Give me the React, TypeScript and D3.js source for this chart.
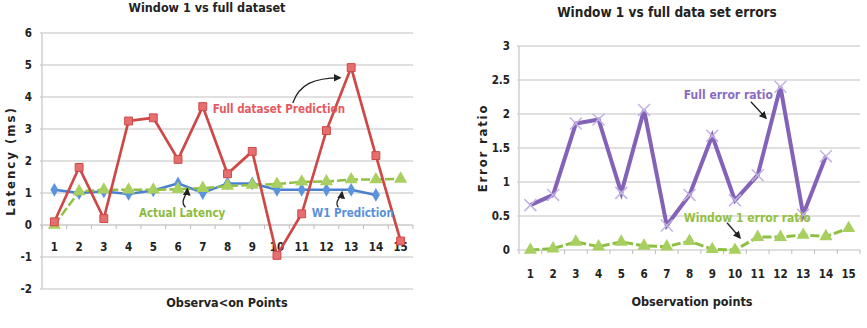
import React from "react";
import * as d3 from "d3";

const categories = [1, 2, 3, 4, 5, 6, 7, 8, 9, 10, 11, 12, 13, 14, 15];

// Left chart
const fullPrediction = [0.1, 1.8, 0.2, 3.25, 3.35, 2.05, 3.7, 1.6, 2.3, -0.95, 0.35, 2.95, 4.92, 2.17, -0.5];
const actualLatency = [0, 1.05, 1.1, 1.1, 1.1, 1.12, 1.15, 1.22, 1.25, 1.28, 1.35, 1.36, 1.42, 1.42, 1.44];
const w1Prediction = [1.1, 1.0, 1.05, 0.97, 1.08, 1.3, 1.0, 1.3, 1.3, 1.1, 1.1, 1.1, 1.1, 0.94];
const leftTicks = [-2, -1, 0, 1, 2, 3, 4, 5, 6];

// Right chart
const fullErrorRatio = [0.66, 0.81, 1.86, 1.92, 0.84, 2.06, 0.36, 0.81, 1.68, 0.73, 1.1, 2.4, 0.52, 1.38];
const w1ErrorRatio = [0.0, 0.02, 0.12, 0.05, 0.12, 0.06, 0.05, 0.13, 0.01, 0.0, 0.19, 0.19, 0.22, 0.2, 0.32];
const rightTicks = [0, 0.5, 1, 1.5, 2, 2.5, 3];

const FONT = "'Liberation Sans Narrow', 'DejaVu Sans Condensed', 'Liberation Sans', Arial, sans-serif";

function sym(type: any, size: number) {
  return d3.symbol().type(type).size(size)() as string;
}

function Arrow({ d, id }: { d: string; id: string }) {
  return <path d={d} fill="none" stroke="#222" strokeWidth={1.3} markerEnd={`url(#${id})`} />;
}

export default function App() {
  // ---------- Left ----------
  const lx = d3.scaleBand<number>().domain(categories).range([42, 413]);
  const lxc = (c: number) => (lx(c) as number) + lx.bandwidth() / 2;
  const lxf = d3.scaleLinear().domain([1, 15]).range([lxc(1), lxc(15)]);
  const ly = d3.scaleLinear().domain([-2, 6]).range([289, 33]);

  const lineL = d3.line<number>().x((_, i) => lxc(categories[i])).y((v) => ly(v));

  // ---------- Right ----------
  const rx = d3.scaleBand<number>().domain(categories).range([519, 860]);
  const rxc = (c: number) => (rx(c) as number) + rx.bandwidth() / 2;
  const rxf = d3.scaleLinear().domain([1, 15]).range([rxc(1), rxc(15)]);
  const ry = d3.scaleLinear().domain([0, 3]).range([250, 46]);
  const lineR = d3.line<number>().x((_, i) => rxc(categories[i])).y((v) => ry(v));

  const square = sym(d3.symbolSquare, 62);
  const tri = sym(d3.symbolTriangle, 75);
  const diamond = sym(d3.symbolDiamond, 55);
  const xMark = sym(d3.symbolX, 95);

  const bandEdgesL = d3.range(0, 16).map((i) => 42 + i * lx.step());
  const bandEdgesR = d3.range(0, 16).map((i) => 519 + i * rx.step());

  return (
    <svg
      width={867}
      height={328}
      style={{ position: "absolute", left: 0, top: 0, background: "#fff" }}
      fontFamily={FONT}
    >
      <defs>
        <marker id="ah" viewBox="0 0 10 10" refX="8" refY="5" markerWidth="6" markerHeight="6" orient="auto">
          <path d="M0,0 L10,5 L0,10 z" fill="#222" />
        </marker>
      </defs>
      <rect x={0} y={0} width={867} height={328} fill="#fff" />

      {/* ================= LEFT CHART ================= */}
      <text x={207} y={12} textAnchor="middle" fontSize={12.5} fontWeight="bold" fill="#222">
        Window 1 vs full dataset
      </text>
      {leftTicks.map((t) => (
        <g key={"lg" + t}>
          <line x1={40} x2={413} y1={ly(t)} y2={ly(t)} stroke={t === 0 ? "#c8c8c8" : "#d6d6d6"} strokeWidth={1.5} />
          <text x={32} y={ly(t) + 4} textAnchor="end" fontSize={11.5} fontWeight="bold" fill="#222">
            {t}
          </text>
        </g>
      ))}
      <line x1={42} x2={42} y1={33} y2={289} stroke="#cfcfcf" strokeWidth={1.5} />
      {bandEdgesL.map((x, i) => (
        <line key={"ltk" + i} x1={x} x2={x} y1={ly(0)} y2={ly(0) + 4} stroke="#bbb" strokeWidth={1} />
      ))}
      {categories.map((c) => (
        <text key={"lxl" + c} x={lxc(c)} y={251} textAnchor="middle" fontSize={11.5} fontWeight="bold" fill="#222">
          {c}
        </text>
      ))}
      <text
        transform={`translate(15,${ly(2)}) rotate(-90)`}
        textAnchor="middle"
        fontSize={13}
        fontWeight="bold"
        letterSpacing={2}
        fill="#222"
      >
        Latency (ms)
      </text>
      <text x={227} y={307} textAnchor="middle" fontSize={12.5} fontWeight="bold" fill="#222">
        Observa&lt;on Points
      </text>

      {/* W1 prediction (blue) */}
      <path d={lineL(w1Prediction) as string} fill="none" stroke="#4a80cf" strokeWidth={2.5} />
      {w1Prediction.map((v, i) => (
        <path key={"bd" + i} d={diamond} transform={`translate(${lxc(categories[i])},${ly(v)})`} fill="#5b93dd" />
      ))}
      {/* Actual latency (green) */}
      <path d={lineL(actualLatency) as string} fill="none" stroke="#8fc043" strokeWidth={2.5} strokeDasharray="9,3" />
      {actualLatency.map((v, i) => (
        <path key={"gt" + i} d={tri} transform={`translate(${lxc(categories[i])},${ly(v)})`} fill="#a8d060" />
      ))}
      {/* Full prediction (red) */}
      <path d={lineL(fullPrediction) as string} fill="none" stroke="#cf4848" strokeWidth={2.7} />
      {fullPrediction.map((v, i) => (
        <path
          key={"rs" + i}
          d={square}
          transform={`translate(${lxc(categories[i])},${ly(v)})`}
          fill="#e56f6f"
          stroke="#cf4848"
          strokeWidth={1}
        />
      ))}

      {/* annotations left */}
      <text x={lxf(7.4)} y={ly(3.5)} fontSize={11.5} fontWeight="bold" fill="#e45a5e">
        Full dataset Prediction
      </text>
      <Arrow
        id="ah"
        d={`M${lxf(10.64)},${ly(3.81)} C${lxf(10.9)},${ly(4.4)} ${lxf(11.5)},${ly(4.6)} ${lxf(12.55)},${ly(4.6)}`}
      />
      <text x={lxf(4.42)} y={ly(0.25)} fontSize={11.5} fontWeight="bold" fill="#8cbb3c">
        Actual Latency
      </text>
      <Arrow
        id="ah"
        d={`M${lxf(6.3)},${ly(0.55)} C${lxf(6.05)},${ly(0.75)} ${lxf(6.35)},${ly(0.9)} ${lxf(6.38)},${ly(1.12)}`}
      />
      <text x={lxf(11.41)} y={ly(0.25)} fontSize={11.5} fontWeight="bold" fill="#5a90dc">
        W1 Prediction
      </text>
      <Arrow
        id="ah"
        d={`M${lxf(12.48)},${ly(0.55)} C${lxf(12.3)},${ly(0.75)} ${lxf(12.6)},${ly(0.85)} ${lxf(12.63)},${ly(1.02)}`}
      />

      {/* ================= RIGHT CHART ================= */}
      <text x={667} y={17} textAnchor="middle" fontSize={13.5} fontWeight="bold" fill="#222">
        Window 1 vs full data set errors
      </text>
      {rightTicks.map((t) => (
        <g key={"rg" + t}>
          <line x1={517} x2={860} y1={ry(t)} y2={ry(t)} stroke="#d6d6d6" strokeWidth={1.5} />
          <text x={510} y={ry(t) + 4} textAnchor="end" fontSize={11.5} fontWeight="bold" fill="#222">
            {t}
          </text>
        </g>
      ))}
      <line x1={519} x2={519} y1={46} y2={250} stroke="#cfcfcf" strokeWidth={1.5} />
      {bandEdgesR.map((x, i) => (
        <line key={"rtk" + i} x1={x} x2={x} y1={ry(0)} y2={ry(0) + 4} stroke="#bbb" strokeWidth={1} />
      ))}
      {categories.map((c) => (
        <text key={"rxl" + c} x={rxc(c)} y={278} textAnchor="middle" fontSize={11.5} fontWeight="bold" fill="#222">
          {c}
        </text>
      ))}
      <text
        transform={`translate(487,${ry(1.5)}) rotate(-90)`}
        textAnchor="middle"
        fontSize={13}
        fontWeight="bold"
        letterSpacing={1.8}
        fill="#222"
      >
        Error ratio
      </text>
      <text x={692} y={306} textAnchor="middle" fontSize={12.5} fontWeight="bold" fill="#222">
        Observation points
      </text>

      {/* Window 1 error (green) */}
      <path d={lineR(w1ErrorRatio) as string} fill="none" stroke="#8fc043" strokeWidth={3} strokeDasharray="9,3" />
      {w1ErrorRatio.map((v, i) => (
        <path key={"rgt" + i} d={tri} transform={`translate(${rxc(categories[i])},${ry(v)})`} fill="#a8d060" />
      ))}
      {/* Full error (purple) */}
      <path d={lineR(fullErrorRatio) as string} fill="none" stroke="#8462b8" strokeWidth={4} />
      {fullErrorRatio.map((v, i) => (
        <path
          key={"px" + i}
          d={xMark}
          transform={`translate(${rxc(categories[i])},${ry(v)})`}
          fill="none"
          stroke="#c2b3e2"
          strokeWidth={1.5}
        />
      ))}

      {/* annotations right */}
      <text x={rxf(7.75)} y={ry(2.22)} fontSize={12} fontWeight="bold" fill="#8a6cc4">
        Full error ratio
      </text>
      <Arrow id="ah" d={`M${rxf(10.7)},${ry(2.18)} L${rxf(11.36)},${ry(1.94)}`} />
      <text x={rxf(7.75)} y={ry(0.41)} fontSize={12} fontWeight="bold" fill="#93c043">
        Window 1 error ratio
      </text>
      <Arrow id="ah" d={`M${rxf(9.65)},${ry(0.4)} L${rxf(10.22)},${ry(0.18)}`} />
    </svg>
  );
}
